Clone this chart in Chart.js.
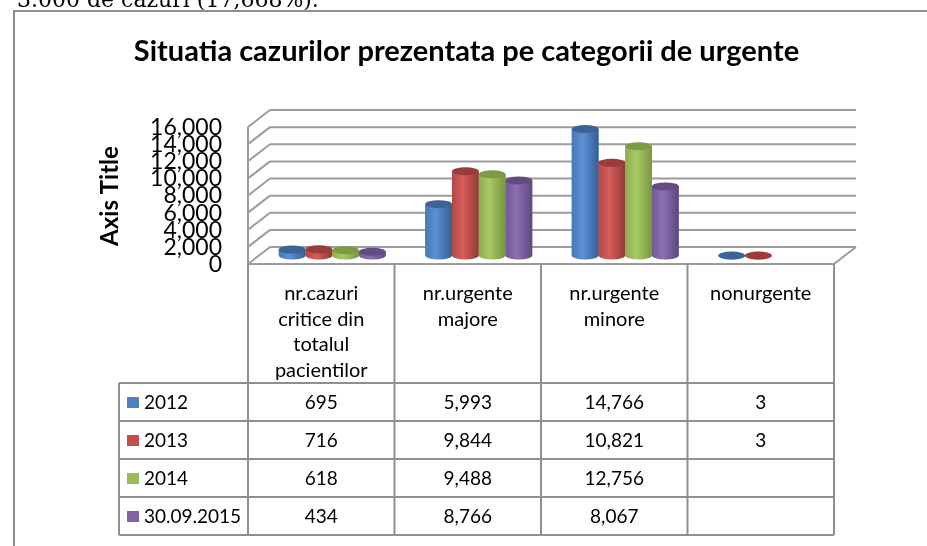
<!DOCTYPE html>
<html>
<head>
<meta charset="utf-8">
<script src="https://cdn.jsdelivr.net/npm/chart.js@4.4.1/dist/chart.umd.min.js"></script>
<style>
  html, body { margin: 0; padding: 0; background: #fff; }
</style>
</head>
<body>
<canvas id="urgente-chart" width="927" height="546"></canvas>
<script>
// Situatia cazurilor pe categorii de urgente
const categories = ['nr.cazuri critice din totalul pacientilor', 'nr.urgente majore', 'nr.urgente minore', 'nonurgente'];
const seriesNames = ['2012', '2013', '2014', '30.09.2015'];
const values2012 = [695, 5993, 14766, 3];
const values2013 = [716, 9844, 10821, 3];
const values2014 = [618, 9488, 12756, null];
const values2015 = [434, 8766, 8067, null];
const yTicks = [0, 2000, 4000, 6000, 8000, 10000, 12000, 14000, 16000];

const colors = ['#4F81BD', '#C0504D', '#9BBB59', '#8064A2'];
// cylinder shading: left, highlight, right edge, top cap
const shades = [
    ['#4878b4', '#5a91d6', '#355f95', '#3b6396'],
    ['#b04a47', '#d65d5a', '#93393a', '#9a3c3a'],
    ['#8eab50', '#a8ca63', '#789641', '#7d9a45'],
    ['#735a94', '#8c6fb3', '#5e4880', '#634c84']
];

const DX = 11, DY = 8.5;   // half depth of the 3d box
const LINE = '#8f8f8f';

function line(ctx, x1, y1, x2, y2) {
    ctx.beginPath();
    ctx.moveTo(x1, y1);
    ctx.lineTo(x2, y2);
    ctx.stroke();
}

// page frame + cut text of the document above
const framePlugin = {
    id: 'frame',
    beforeDraw(chart) {
        const ctx = chart.ctx;
        ctx.save();
        ctx.fillStyle = '#000';
        ctx.font = '22px "DejaVu Serif"';
        ctx.textBaseline = 'alphabetic';
        ctx.fillText('3.000 de cazuri (17,668%).', 17, 7);
        ctx.strokeStyle = LINE;
        ctx.lineWidth = 2;
        line(ctx, 14, 11, 927, 11);
        line(ctx, 14, 10, 14, 546);
        ctx.restore();
    }
};

// back wall, side wall and floor
const wallsPlugin = {
    id: 'walls',
    beforeDatasetsDraw(chart) {
        const { ctx, chartArea: a, scales: { y } } = chart;
        ctx.save();
        ctx.strokeStyle = '#9c9c9c';
        ctx.lineWidth = 2;
        yTicks.forEach(v => {
            const py = y.getPixelForValue(v);
            line(ctx, a.left + DX, py - DY, a.right + DX, py - DY);
            line(ctx, a.left - DX, py + DY, a.left + DX, py - DY);
        });
        const y0 = y.getPixelForValue(0);
        const yMax = y.getPixelForValue(yTicks[yTicks.length - 1]);
        line(ctx, a.left - DX, yMax + DY, a.left - DX, y0 + DY);
        line(ctx, a.left - DX, y0 + DY, a.right - DX, y0 + DY);
        line(ctx, a.right - DX, y0 + DY, a.right + DX, y0 - DY);
        ctx.restore();
    }
};

// paint the bars as cylinders over the library bars
const cylinderPlugin = {
    id: 'cylinders',
    afterDatasetsDraw(chart) {
        const ctx = chart.ctx;
        chart.data.datasets.forEach((ds, i) => {
            const sh = shades[i];
            chart.getDatasetMeta(i).data.forEach((bar, j) => {
                if (ds.data[j] == null) return;
                const { x, y, base, width } = bar.getProps(['x', 'y', 'base', 'width'], true);
                const rx = width / 2, ry = 4;
                const g = ctx.createLinearGradient(x - rx, 0, x + rx, 0);
                g.addColorStop(0, sh[0]);
                g.addColorStop(0.4, sh[1]);
                g.addColorStop(1, sh[2]);
                ctx.save();
                ctx.fillStyle = g;
                ctx.beginPath();
                ctx.moveTo(x - rx, y);
                ctx.lineTo(x - rx, base);
                ctx.ellipse(x, base, rx, ry, 0, Math.PI, 0, true);
                ctx.lineTo(x + rx, y);
                ctx.closePath();
                ctx.fill();
                ctx.fillStyle = sh[3];
                ctx.beginPath();
                ctx.ellipse(x, y, rx, ry, 0, 0, Math.PI * 2);
                ctx.fill();
                ctx.restore();
            });
        });
    }
};

function wrapWords(ctx, text, maxWidth) {
    const words = text.split(' ');
    const lines = [];
    let cur = '';
    words.forEach(w => {
        const test = cur ? cur + ' ' + w : w;
        if (cur && ctx.measureText(test).width > maxWidth) {
            lines.push(cur);
            cur = w;
        } else {
            cur = test;
        }
    });
    if (cur) lines.push(cur);
    return lines;
}

// axis title and data table under the floor
const tablePlugin = {
    id: 'dataTable',
    afterDraw(chart) {
        const { ctx, chartArea: a, scales: { x, y } } = chart;
        const band = (a.right - a.left) / categories.length;
        const top = y.getPixelForValue(0) + DY;
        const headBottom = 383, rowH = 38, legendLeft = 119;
        const bottom = headBottom + rowH * seriesNames.length;
        const colEdge = k => a.left - DX + k * band;

        ctx.save();
        // axis title
        ctx.fillStyle = '#000';
        ctx.font = 'bold 24px Lato';
        ctx.textAlign = 'center';
        ctx.textBaseline = 'middle';
        ctx.translate(110, 196);
        ctx.rotate(-Math.PI / 2);
        ctx.fillText('Axis Title', 0, 0);
        ctx.restore();

        ctx.save();
        ctx.strokeStyle = LINE;
        ctx.lineWidth = 2;
        for (let k = 0; k <= categories.length; k++) {
            line(ctx, colEdge(k), top, colEdge(k), bottom);
        }
        line(ctx, legendLeft, headBottom, legendLeft, bottom);
        for (let r = 0; r <= seriesNames.length; r++) {
            const ry = headBottom + r * rowH;
            line(ctx, legendLeft, ry, colEdge(categories.length), ry);
        }

        ctx.fillStyle = '#000';
        ctx.font = '20px Lato';
        ctx.textBaseline = 'alphabetic';
        ctx.textAlign = 'center';
        categories.forEach((c, i) => {
            const cx = x.getPixelForValue(i) - DX;
            wrapWords(ctx, c, 118).forEach((ln, l) => {
                ctx.fillText(ln, cx, 300 + l * 25.7);
            });
        });

        ctx.font = '19px Lato';
        const rows = [values2012, values2013, values2014, values2015];
        rows.forEach((vals, r) => {
            const rowTop = headBottom + r * rowH;
            ctx.fillStyle = colors[r];
            ctx.fillRect(127, rowTop + 14, 12, 11);
            ctx.fillStyle = '#000';
            ctx.textAlign = 'left';
            ctx.fillText(seriesNames[r], 144, rowTop + 26);
            ctx.textAlign = 'center';
            vals.forEach((v, i) => {
                if (v == null) return;
                ctx.fillText(v.toLocaleString('en-US'), x.getPixelForValue(i) - DX, rowTop + 26);
            });
        });
        ctx.restore();
    }
};

const urgenteChart = document.getElementById('urgente-chart').getContext('2d');
const urgenteData = {
    labels: categories,
    datasets: [
        { label: seriesNames[0], data: values2012, backgroundColor: colors[0] },
        { label: seriesNames[1], data: values2013, backgroundColor: colors[1] },
        { label: seriesNames[2], data: values2014, backgroundColor: colors[2] },
        { label: seriesNames[3], data: values2015, backgroundColor: colors[3] }
    ]
};
const urgenteOptions = {
    responsive: false,
    animation: false,
    categoryPercentage: 0.73,
    barPercentage: 1,
    layout: { padding: { left: 88, right: 82, top: 0, bottom: 290.5 } },
    plugins: {
        legend: { display: false },
        tooltip: { enabled: false },
        title: {
            display: true,
            text: 'Situatia cazurilor prezentata pe categorii de urgente',
            color: '#000',
            font: { family: 'Lato', size: 29, weight: 'bold' },
            padding: { top: 34.6, bottom: 49.1 }
        }
    },
    scales: {
        x: { display: false },
        y: {
            min: 0,
            max: 16000,
            afterBuildTicks: s => { s.ticks = yTicks.map(v => ({ value: v })); },
            afterFit: s => { s.width = 171; },
            grid: { display: false, drawTicks: false },
            border: { display: false },
            ticks: {
                autoSkip: false,
                padding: 37,
                labelOffset: 9,
                color: '#000',
                font: { family: 'Lato', size: 23 },
                callback: v => v.toLocaleString('en-US')
            }
        }
    }
};
const urgenteChartInstance = new Chart(urgenteChart, {
    type: 'bar',
    data: urgenteData,
    options: urgenteOptions,
    plugins: [framePlugin, wallsPlugin, cylinderPlugin, tablePlugin]
});
</script>
</body>
</html>
